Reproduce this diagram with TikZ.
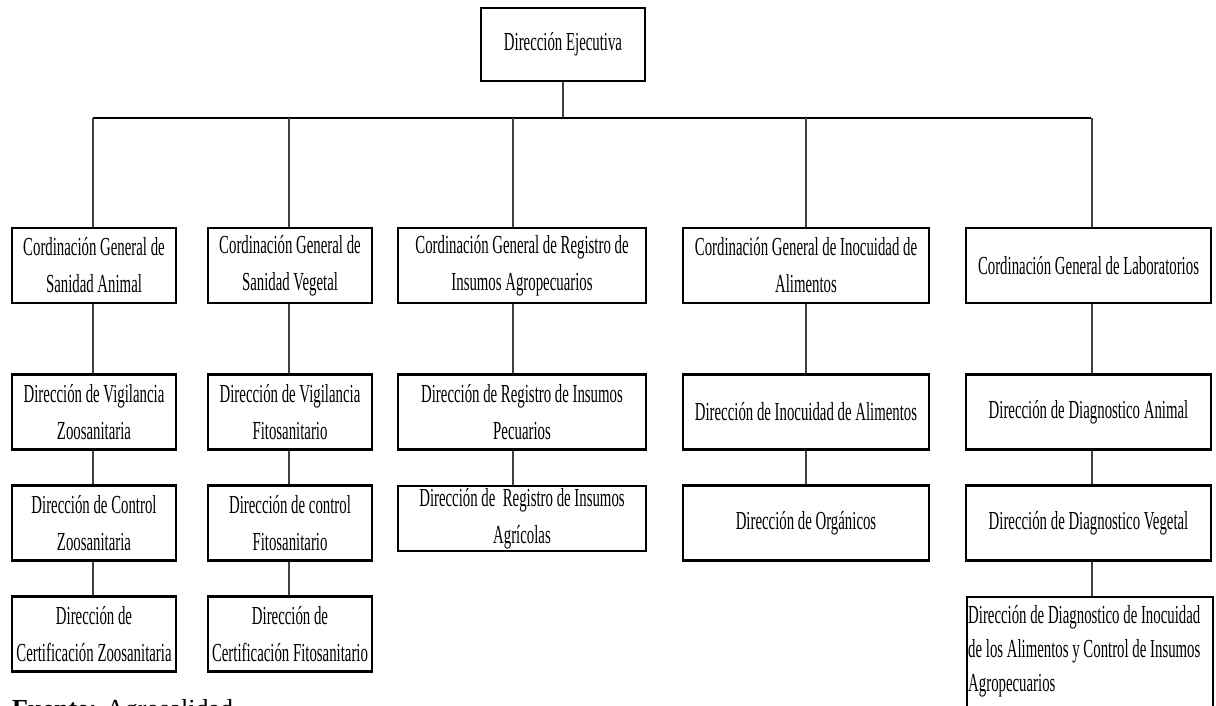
\documentclass[tikz,border=0pt]{standalone}
\usepackage{fontspec}
\setmainfont{Liberation Serif}
\newfontfamily\chartfont[FakeStretch=0.57]{Liberation Serif}
\begin{document}
\begin{tikzpicture}[x=1pt,y=-1pt,
  unit/.style={draw=black, line width=2.4pt, inner sep=0pt, align=center,
    font=\chartfont\fontsize{26}{37}\selectfont, minimum height=75pt},
  narrow/.style={unit, minimum width=164pt},
  wide/.style={unit, minimum width=248pt},
  link/.style={draw=black!75, line width=1.2pt},
  bar/.style={draw=black, line width=2.4pt}]
\useasboundingbox (0,0) rectangle (1216,706);
\clip (0,0) rectangle (1216,706);

% head of the chart
\node[narrow, minimum height=73pt] (top) at (563,44.5) {Dirección Ejecutiva};

% general coordinations
\node[narrow] (c1) at (94,265.5) {Cordinación General de\\Sanidad Animal};
\node[narrow] (c2) at (290,265.5) {Cordinación General de\\Sanidad Vegetal};
\node[wide] (c3) at (522,265.5) {Cordinación General de Registro de\\Insumos Agropecuarios};
\node[unit, minimum width=246pt] (c4) at (806,265.5) {Cordinación General de Inocuidad de\\Alimentos};
\node[unit, minimum width=245pt] (c5) at (1088.5,265.5) {Cordinación General de Laboratorios};

% second level
\node[narrow] (d1) at (94,412) {Dirección de Vigilancia\\Zoosanitaria};
\node[narrow] (d2) at (290,412) {Dirección de Vigilancia\\Fitosanitario};
\node[wide] (d3) at (522,412) {Dirección de Registro de Insumos\\Pecuarios};
\node[unit, minimum width=246pt] (d4) at (806,412) {Dirección de Inocuidad de Alimentos};
\node[unit, minimum width=245pt] (d5) at (1088.5,412) {Dirección de Diagnostico Animal};

% third level
\node[narrow] (e1) at (94,523) {Dirección de Control\\Zoosanitaria};
\node[narrow] (e2) at (290,523) {Dirección de control\\Fitosanitario};
\node[wide, minimum height=65pt] (e3) at (522,518.5) {Dirección de~ Registro de Insumos\\Agrícolas};
\node[unit, minimum width=246pt] (e4) at (806,523) {Dirección de Orgánicos};
\node[unit, minimum width=245pt] (e5) at (1088.5,523) {Dirección de Diagnostico Vegetal};

% fourth level
\node[narrow] (f1) at (94,634) {Dirección de\\Certificación Zoosanitaria};
\node[narrow] (f2) at (290,634) {Dirección de\\Certificación Fitosanitario};
\node[draw=black, line width=2.4pt, inner sep=0pt, minimum width=246pt,
  minimum height=140pt, anchor=north west] (f5) at (966,596) {};
\node[anchor=north west, inner sep=0pt, align=left,
  font=\chartfont\fontsize{26}{34}\selectfont] (f5t) at (968,605)
  {Dirección de Diagnostico de Inocuidad\\de los Alimentos y Control de Insumos\\Agropecuarios};

% source line
\node[anchor=base west, inner sep=0pt, font=\fontsize{26}{30}\selectfont] (src) at (12,717)
  {\textbf{Fuente:} Agrosalidad};

% distribution bus
\coordinate (bus) at (563,118);
\coordinate (k1) at (93,118);
\coordinate (k2) at (289,118);
\coordinate (k3) at (513,118);
\coordinate (k4) at (806,118);
\coordinate (k5) at (1092,118);
\coordinate (busend) at (1091,118);
\draw[link] (top.south) -- (bus);
\draw[bar] (k1) -- (busend);
\draw[link] (k1) -- (c1.north -| k1);
\draw[link] (k2) -- (c2.north -| k2);
\draw[link] (k3) -- (c3.north -| k3);
\draw[link] (k4) -- (c4.north -| k4);
\draw[link] (k5) -- (c5.north -| k5);

% column links
\draw[link] (c1.south -| k1) -- (d1.north -| k1);
\draw[link] (d1.south -| k1) -- (e1.north -| k1);
\draw[link] (e1.south -| k1) -- (f1.north -| k1);
\draw[link] (c2.south -| k2) -- (d2.north -| k2);
\draw[link] (d2.south -| k2) -- (e2.north -| k2);
\draw[link] (e2.south -| k2) -- (f2.north -| k2);
\draw[link] (c3.south -| k3) -- (d3.north -| k3);
\draw[link] (d3.south -| k3) -- (e3.north -| k3);
\draw[link] (c4.south -| k4) -- (d4.north -| k4);
\draw[link] (d4.south -| k4) -- (e4.north -| k4);
\draw[link] (c5.south -| k5) -- (d5.north -| k5);
\draw[link] (d5.south -| k5) -- (e5.north -| k5);
\draw[link] (e5.south -| k5) -- (f5.north -| k5);
\end{tikzpicture}
\end{document}
